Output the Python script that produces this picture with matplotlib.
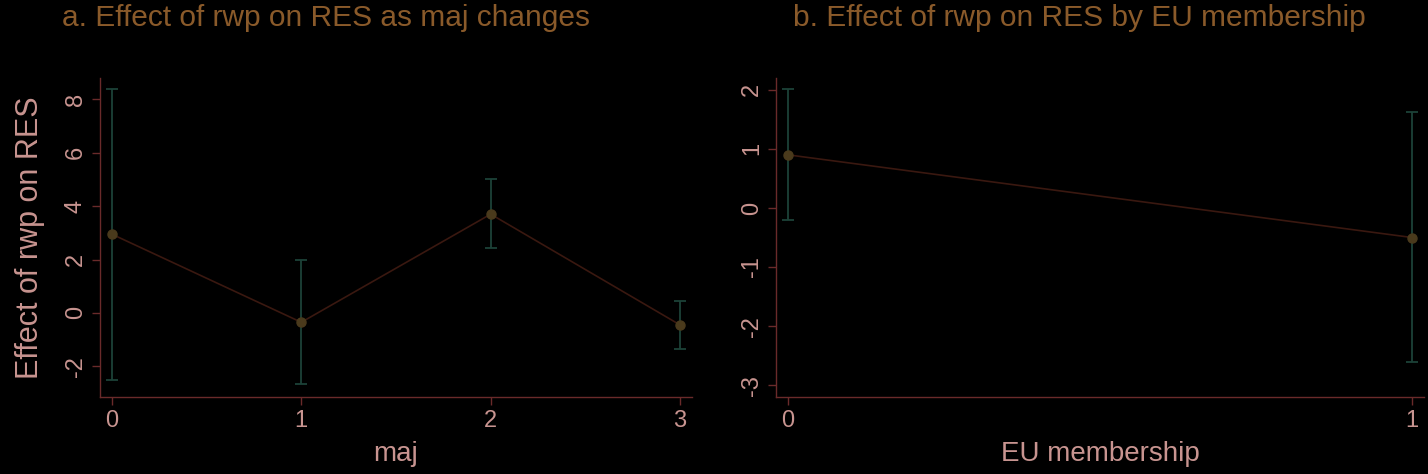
import matplotlib.pyplot as plt

# panel a: effect of rwp on RES by maj
maj = [0, 1, 2, 3]
eff_maj = [2.95, -0.35, 3.7, -0.45]
lo_maj = [-2.5, -2.65, 2.45, -1.35]
hi_maj = [8.4, 2.0, 5.0, 0.45]

# panel b: by EU membership
eu = [0, 1]
eff_eu = [0.9, -0.5]
lo_eu = [-0.2, -2.6]
hi_eu = [2.02, 1.62]

bg = 'black'
title_c = '#8a5a2a'
tick_c = '#c89490'
axis_c = '#6a2a2a'
ci_c = '#1c4238'
line_c = '#3a1810'
mark_c = '#4a3a1c'

plt.rcParams['font.family'] = ['Liberation Sans Narrow', 'Liberation Sans', 'DejaVu Sans']
plt.rcParams['axes.unicode_minus'] = False

fig = plt.figure(figsize=(14.28, 4.74), dpi=100, facecolor=bg)
ax1 = fig.add_axes([0.070, 0.1624, 0.4146, 0.673])
ax2 = fig.add_axes([0.5434, 0.1624, 0.4538, 0.673])


def draw(ax, x, y, lo, hi):
    ax.set_facecolor(bg)
    ax.vlines(x, lo, hi, color=ci_c, lw=1.3)
    ax.plot(x, lo, '_', color=ci_c, ms=8, mew=1.3)
    ax.plot(x, hi, '_', color=ci_c, ms=8, mew=1.3)
    ax.plot(x, y, color=line_c, lw=1.2)
    ax.plot(x, y, 'o', color=mark_c, ms=6.5)
    for s in ['top', 'right']:
        ax.spines[s].set_visible(False)
    for s in ['left', 'bottom']:
        ax.spines[s].set_color(axis_c)
        ax.spines[s].set_linewidth(1.0)
    ax.tick_params(colors=axis_c, labelcolor=tick_c, labelsize=17, length=6, width=1)


draw(ax1, maj, eff_maj, lo_maj, hi_maj)
ax1.set_xlim(-0.063, 3.063)
ax1.set_ylim(-3.15, 8.8)
ax1.set_xticks([0, 1, 2, 3])
ax1.set_yticks([-2, 0, 2, 4, 6, 8])
for lab in ax1.get_yticklabels():
    lab.set_rotation(90)
    lab.set_va('center')
ax1.set_xlabel('maj', color=tick_c, fontsize=20, labelpad=6)
ax1.set_ylabel('Effect of rwp on RES', color=tick_c, fontsize=22, labelpad=14)

draw(ax2, eu, eff_eu, lo_eu, hi_eu)
ax2.set_xlim(-0.019, 1.019)
ax2.set_ylim(-3.2, 2.2)
ax2.set_xticks([0, 1])
ax2.set_yticks([-3, -2, -1, 0, 1, 2])
for lab in ax2.get_yticklabels():
    lab.set_rotation(90)
    lab.set_va('center')
ax2.set_xlabel('EU membership', color=tick_c, fontsize=20, labelpad=6)

fig.text(0.228, 0.962, 'a. Effect of rwp on RES as maj changes', color=title_c,
         fontsize=21.5, ha='center', va='center')
fig.text(0.756, 0.962, 'b. Effect of rwp on RES by EU membership', color=title_c,
         fontsize=21.5, ha='center', va='center')

fig.savefig('out.png', dpi=100, facecolor=bg)
